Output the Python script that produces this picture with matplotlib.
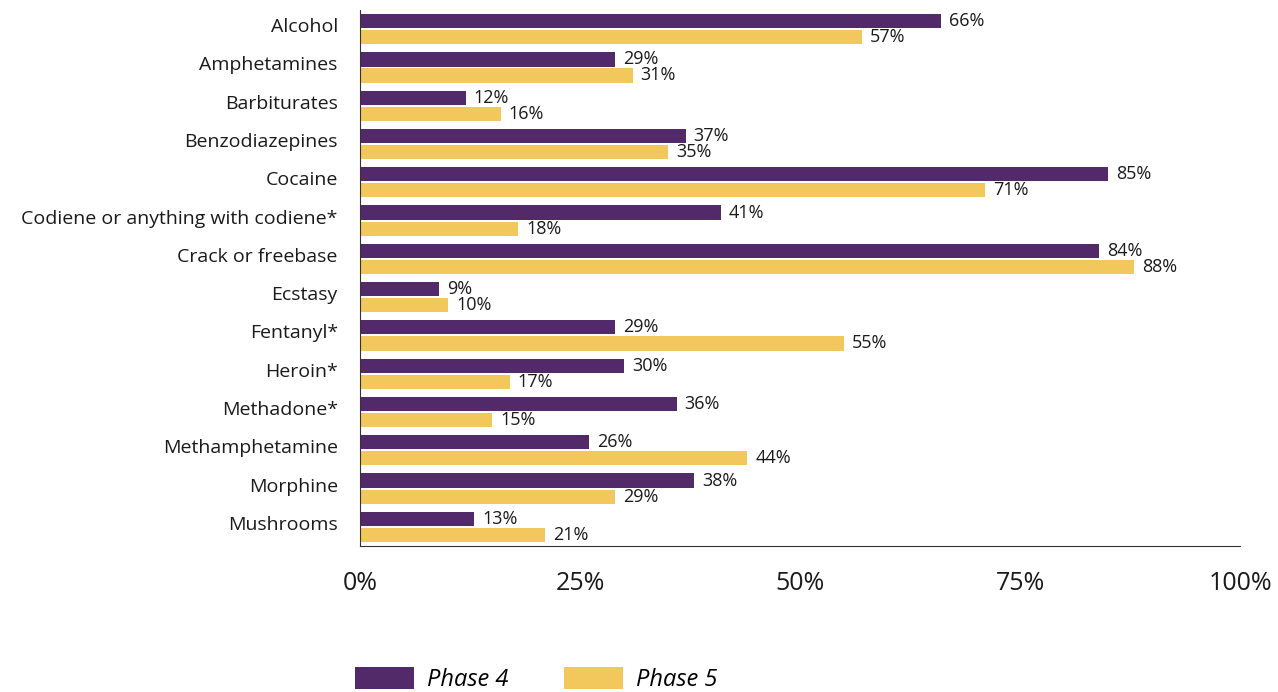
import matplotlib.pyplot as plt
import matplotlib.transforms as mtransforms
import numpy as np

categories = ["Alcohol", "Amphetamines", "Barbiturates", "Benzodiazepines", "Cocaine",
              "Codiene or anything with codiene*", "Crack or freebase", "Ecstasy",
              "Fentanyl*", "Heroin*", "Methadone*", "Methamphetamine", "Morphine", "Mushrooms"]
phase4 = [66, 29, 12, 37, 85, 41, 84, 9, 29, 30, 36, 26, 38, 13]
phase5 = [57, 31, 16, 35, 71, 18, 88, 10, 55, 17, 15, 44, 29, 21]
xticks = [0, 25, 50, 75, 100]
xtick_labels = ["0%", "25%", "50%", "75%", "100%"]

purple = "#522A6A"
yellow = "#F2C75B"

plt.rcParams['font.family'] = ['Open Sans', 'DejaVu Sans']

fig = plt.figure(figsize=(12.78, 6.92), dpi=100)
ax = fig.add_axes([0.2817, 0.211, 0.6886, 0.7745])

y = np.arange(len(categories))
h = 0.37
b1 = ax.barh(y - 0.21, phase4, height=h, color=purple, label="Phase 4")
b2 = ax.barh(y + 0.21, phase5, height=h, color=yellow, label="Phase 5")

for bars, vals in [(b1, phase4), (b2, phase5)]:
    for bar, v in zip(bars, vals):
        ax.text(v + 0.9, bar.get_y() + bar.get_height() / 2, "{}%".format(v),
                va="center", ha="left", fontsize=13, color="#1a1a1a")

ax.set_ylim(len(categories) - 0.5, -0.5)
ax.set_xlim(0, 100)
ax.set_yticks(y)
ax.set_yticklabels(categories, fontsize=14, color="#1a1a1a")
ax.set_xticks(xticks)
ax.set_xticklabels(xtick_labels, fontsize=18, color="#1a1a1a")
ax.tick_params(axis="both", length=0)
ax.tick_params(axis="x", pad=18)
ax.tick_params(axis="y", pad=16)

# labels sit a little above the group centre
shift = mtransforms.ScaledTranslation(0, 4 / 100, fig.dpi_scale_trans)
for lab in ax.get_yticklabels():
    lab.set_transform(lab.get_transform() + shift)

for s in ["top", "right"]:
    ax.spines[s].set_visible(False)
ax.spines["left"].set_color("#333333")
ax.spines["bottom"].set_color("#333333")

leg = fig.legend(handles=[b1, b2], loc="center", bbox_to_anchor=(0.4195, 0.018), ncol=2,
                 frameon=False, prop={"style": "italic", "size": 17},
                 handlelength=2.5, handleheight=1.02, handletextpad=0.55, columnspacing=2.37)

fig.savefig("out.png", dpi=100)
